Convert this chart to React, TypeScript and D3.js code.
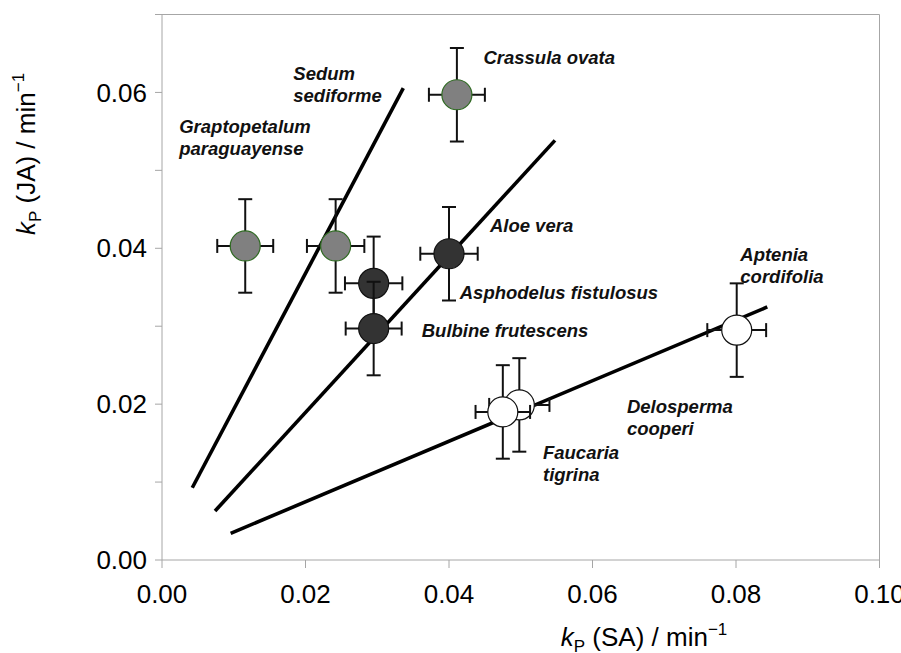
import React from "react";
import * as d3 from "d3";

// ---- data ----
const species = [
  "Graptopetalum paraguayense",
  "Sedum sediforme",
  "Crassula ovata",
  "Aloe vera",
  "Asphodelus fistulosus",
  "Bulbine frutescens",
  "Delosperma cooperi",
  "Faucaria tigrina",
  "Aptenia cordifolia",
];
const kSA = [0.0116, 0.0242, 0.0411, 0.0400, 0.0295, 0.0295, 0.0498, 0.0475, 0.0801];
const kJA = [0.0403, 0.0403, 0.0597, 0.0393, 0.0355, 0.0297, 0.0199, 0.0190, 0.0295];
const errSA = [0.0039, 0.0040, 0.0039, 0.0040, 0.0040, 0.0039, 0.0042, 0.0038, 0.0041];
const errJA = [0.0060, 0.0060, 0.0060, 0.0060, 0.0060, 0.0060, 0.0060, 0.0060, 0.0060];
const groupOf = ["gray", "gray", "gray", "dark", "dark", "dark", "white", "white", "white"];

// regression lines: [x1, y1, x2, y2]
const fitLines = [
  [0.00422, 0.00927, 0.03363, 0.06055],
  [0.00739, 0.00628, 0.05477, 0.05385],
  [0.00957, 0.00342, 0.08436, 0.03247],
];

const xTicks = [0, 0.02, 0.04, 0.06, 0.08, 0.1];
const yTicks = [0, 0.01, 0.02, 0.03, 0.04, 0.05, 0.06, 0.07];
const yTickLabels = [0, 0.02, 0.04, 0.06];

// annotation text lines and anchor (data coords)
const annotations: { lines: string[]; x: number; y: number }[] = [
  { lines: ["Sedum", "sediforme"], x: 0.0183, y: 0.0616 },
  { lines: ["Graptopetalum", "paraguayense"], x: 0.0024, y: 0.0548 },
  { lines: ["Crassula ovata"], x: 0.0448, y: 0.0636 },
  { lines: ["Aloe vera"], x: 0.0457, y: 0.0421 },
  { lines: ["Asphodelus fistulosus"], x: 0.0415, y: 0.0335 },
  { lines: ["Bulbine frutescens"], x: 0.0362, y: 0.0286 },
  { lines: ["Aptenia", "cordifolia"], x: 0.0806, y: 0.0384 },
  { lines: ["Delosperma", "cooperi"], x: 0.0648, y: 0.0189 },
  { lines: ["Faucaria", "tigrina"], x: 0.0531, y: 0.0130 },
];

const styles: Record<string, { fill: string; stroke: string }> = {
  gray: { fill: "#808080", stroke: "#2f6a22" },
  dark: { fill: "#333333", stroke: "#111111" },
  white: { fill: "#ffffff", stroke: "#111111" },
};

const W = 901;
const H = 653;
const FONT = "'Liberation Sans', Arial, sans-serif";

export default function App() {
  const x = d3.scaleLinear().domain([0, 0.1]).range([162, 879.5]);
  const y = d3.scaleLinear().domain([0, 0.07]).range([560, 14.5]);
  const axisColor = "#a6a6a6";
  const cap = 7;
  const r = 15;

  return (
    <svg
      width={W}
      height={H}
      style={{ position: "absolute", left: 0, top: 0, background: "#fff" }}
      fontFamily={FONT}
    >
      {/* frame */}
      <line x1={x(0)} x2={x(0.1)} y1={y(0.07)} y2={y(0.07)} stroke={axisColor} strokeWidth={1} />
      <line x1={x(0.1)} x2={x(0.1)} y1={y(0.07)} y2={y(0)} stroke={axisColor} strokeWidth={1} />
      <line x1={x(0)} x2={x(0)} y1={y(0.07)} y2={y(0)} stroke={axisColor} strokeWidth={1} />
      <line x1={x(0)} x2={x(0.1)} y1={y(0)} y2={y(0)} stroke={axisColor} strokeWidth={1} />
      {yTicks.map((t) => (
        <line key={"yt" + t} x1={x(0) - 7} x2={x(0)} y1={y(t)} y2={y(t)} stroke={axisColor} strokeWidth={1} />
      ))}
      {xTicks.map((t) => (
        <line key={"xt" + t} x1={x(t)} x2={x(t)} y1={y(0)} y2={y(0) + 8} stroke={axisColor} strokeWidth={1} />
      ))}
      {yTickLabels.map((t) => (
        <text key={"yl" + t} x={x(0) - 15} y={y(t)} dy="0.35em" textAnchor="end" fontSize={26} fill="#000">
          {d3.format(".2f")(t)}
        </text>
      ))}
      {xTicks.map((t) => (
        <text key={"xl" + t} x={x(t)} y={603} textAnchor="middle" fontSize={26} fill="#000">
          {d3.format(".2f")(t)}
        </text>
      ))}

      {/* axis titles */}
      <text x={644} y={646} textAnchor="middle" fontSize={26} fill="#000">
        <tspan fontStyle="italic">k</tspan>
        <tspan fontSize={17} dy={6}>P</tspan>
        <tspan dy={-6}> (SA) / min</tspan>
        <tspan fontSize={17} dy={-11}>−1</tspan>
      </text>
      <text
        transform="translate(35,154) rotate(-90)"
        textAnchor="middle"
        fontSize={26}
        fill="#000"
      >
        <tspan fontStyle="italic">k</tspan>
        <tspan fontSize={17} dy={6}>P</tspan>
        <tspan dy={-6}> (JA) / min</tspan>
        <tspan fontSize={17} dy={-11}>−1</tspan>
      </text>

      {/* fit lines */}
      {fitLines.map((l, i) => (
        <line
          key={"fl" + i}
          x1={x(l[0])}
          y1={y(l[1])}
          x2={x(l[2])}
          y2={y(l[3])}
          stroke="#000"
          strokeWidth={3.6}
        />
      ))}

      {/* points with error bars */}
      {species.map((s, i) => {
        const cx = x(kSA[i]);
        const cy = y(kJA[i]);
        const x1 = x(kSA[i] - errSA[i]);
        const x2 = x(kSA[i] + errSA[i]);
        const y1 = y(kJA[i] + errJA[i]);
        const y2 = y(kJA[i] - errJA[i]);
        const st = styles[groupOf[i]];
        return (
          <g key={s}>
            <g stroke="#111" strokeWidth={2} fill="none">
              <line x1={cx} x2={cx} y1={y1} y2={y2} />
              <line x1={cx - cap} x2={cx + cap} y1={y1} y2={y1} />
              <line x1={cx - cap} x2={cx + cap} y1={y2} y2={y2} />
              <line x1={x1} x2={x2} y1={cy} y2={cy} />
              <line x1={x1} x2={x1} y1={cy - cap} y2={cy + cap} />
              <line x1={x2} x2={x2} y1={cy - cap} y2={cy + cap} />
            </g>
            <circle cx={cx} cy={cy} r={r} fill={st.fill} stroke={st.stroke} strokeWidth={1.2} />
          </g>
        );
      })}

      {/* annotations */}
      {annotations.map((a, i) => (
        <text
          key={"an" + i}
          x={x(a.x)}
          y={y(a.y)}
          fontSize={18.5}
          fontWeight="bold"
          fontStyle="italic"
          fill="#111"
        >
          {a.lines.map((ln, j) => (
            <tspan key={j} x={x(a.x)} dy={j === 0 ? 0 : 22}>
              {ln}
            </tspan>
          ))}
        </text>
      ))}
    </svg>
  );
}
